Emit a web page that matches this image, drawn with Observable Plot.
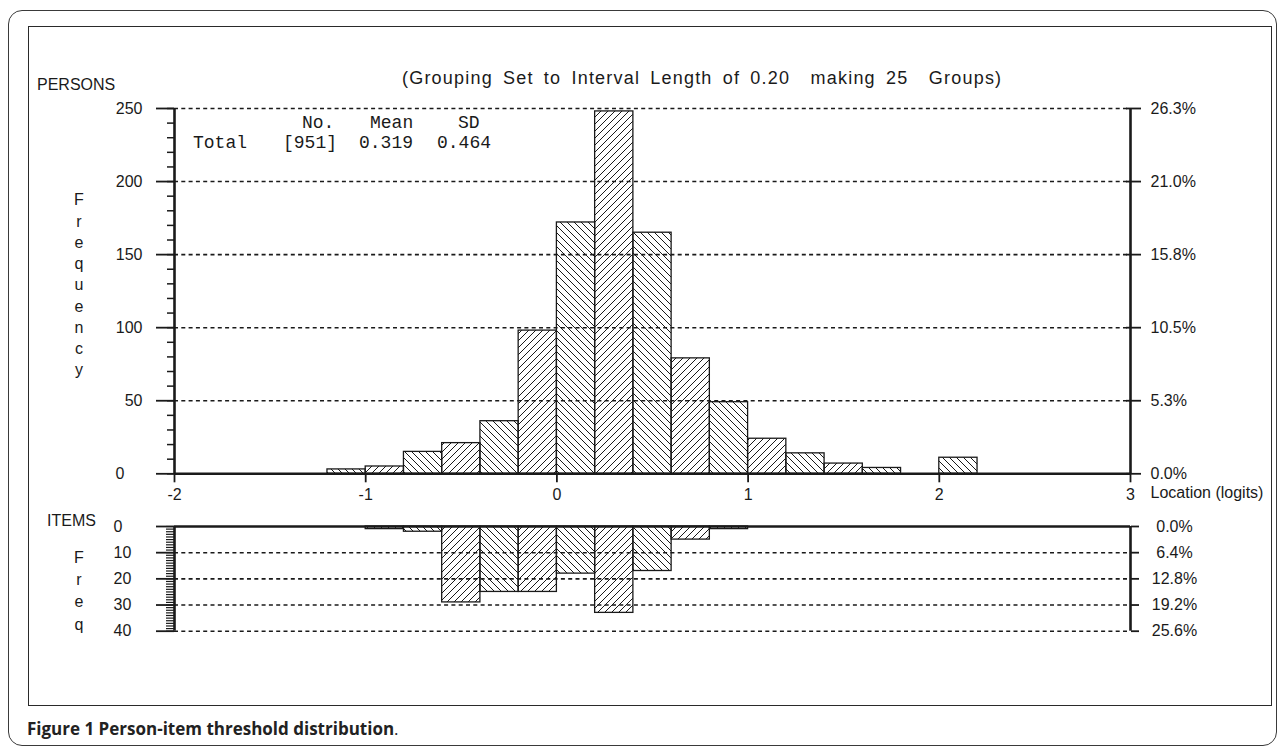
<!DOCTYPE html>
<html>
<head>
<meta charset="utf-8">
<script src="https://cdn.jsdelivr.net/npm/d3@7"></script>
<script src="https://cdn.jsdelivr.net/npm/@observablehq/plot@0.6"></script>
<style>
  html, body { margin: 0; padding: 0; background: #fff; }
  #wrap { position: relative; width: 1279px; height: 751px; overflow: hidden; font-family: "Liberation Sans", Arial, sans-serif; color: #1a1a1a; }
  .abs { position: absolute; white-space: pre; }
  #outer { left: 8px; top: 10px; width: 1269px; height: 736px; box-sizing: border-box; border: 1.5px solid #3a3a3a; border-radius: 14px; }
  #inner { left: 28px; top: 26px; width: 1244px; height: 680px; box-sizing: border-box; border: 1px solid #2a2a2a; }
  .lbl { font-size: 16px; line-height: 20px; }
  .mono { font-family: "Liberation Mono", "Courier New", monospace; font-size: 18px; line-height: 20px; }
  .stack { font-size: 16px; text-align: center; width: 20px; }
  #title { font-size: 18px; line-height: 22px; letter-spacing: 1.2px; word-spacing: 4px; }
  #caption { font-family: "Open Sans", "Noto Sans", sans-serif; font-size: 17px; line-height: 22px; font-weight: 700; color: #222; }
  .plotbox { position: absolute; left: 0; }
</style>
</head>
<body>
<svg width="0" height="0" style="position:absolute">
  <defs>
    <pattern id="hB" patternUnits="userSpaceOnUse" width="7" height="7">
      <path d="M0,0L7,7M-1,6L1,8M6,-1L8,1" stroke="#1a1a1a" stroke-width="1"/>
    </pattern>
    <pattern id="hF" patternUnits="userSpaceOnUse" width="7" height="7">
      <path d="M0,7L7,0M-1,1L1,-1M6,8L8,6" stroke="#1a1a1a" stroke-width="1"/>
    </pattern>
  </defs>
</svg>
<div id="wrap">
  <div id="outer" class="abs"></div>
  <div id="inner" class="abs"></div>
  <div id="title" class="abs"></div>
  <div id="persLbl" class="abs lbl"></div>
  <div id="itemLbl" class="abs lbl"></div>
  <div id="freqA" class="abs stack"></div>
  <div id="freqB" class="abs stack"></div>
  <div id="stats"></div>
  <div id="topBox" class="plotbox" style="top:40px"></div>
  <div id="botBox" class="plotbox" style="top:510px"></div>
  <div id="caption" class="abs"></div>
</div>
<script>
// ---------- data ----------
const binLeft = [-2.0,-1.8,-1.6,-1.4,-1.2,-1.0,-0.8,-0.6,-0.4,-0.2,0.0,0.2,0.4,0.6,0.8,1.0,1.2,1.4,1.6,1.8,2.0,2.2,2.4,2.6,2.8];
const binWidth = 0.2;
const personCounts = [0,0,0,0,3,5,15,21,36,98,172,248,165,79,49,24,14,7,4,0,11,0,0,0,0];
const itemCounts   = [0,0,0,0,0,1,2,29,25,25,18,33,17,5,1,0,0,0,0,0,0,0,0,0,0];
const xTicks = [-2,-1,0,1,2,3];
const xTickLabels = ["-2","-1","0","1","2","3"];
const personTicks = [0,50,100,150,200,250];
const personPctLabels = ["0.0%","5.3%","10.5%","15.8%","21.0%","26.3%"];
const itemTicks = [0,10,20,30,40];
const itemPctLabels = ["0.0%","6.4%","12.8%","19.2%","25.6%"];
const titleText = "(Grouping Set to Interval Length of 0.20  making 25  Groups)";
const personsLabel = "PERSONS";
const itemsLabel = "ITEMS";
const freqLetters = ["F","r","e","q","u","e","n","c","y"];
const freqShortLetters = ["F","r","e","q"];
const xAxisLabel = "Location (logits)";
const statHeader = [["No.", 302], ["Mean", 370], ["SD", 458]];
const statRow = [["Total", 193], ["[951]", 283], ["0.319", 359], ["0.464", 437]];
const captionBold = "Figure 1 Person-item threshold distribution";

// ---------- text ----------
const ink = "#1a1a1a";
function place(id, text, left, cy, lh) {
  const el = document.getElementById(id);
  el.textContent = text;
  el.style.left = left + "px";
  el.style.top = (cy - lh / 2) + "px";
}
place("title", titleText, 402, 78, 22);
place("persLbl", personsLabel, 37, 85, 20);
place("itemLbl", itemsLabel, 47, 521, 20);
function stack(id, letters, cx, cy0, step) {
  const el = document.getElementById(id);
  el.style.left = (cx - 10) + "px";
  el.style.top = (cy0 - step / 2) + "px";
  el.style.lineHeight = step + "px";
  el.textContent = letters.join("\n");
}
stack("freqA", freqLetters, 79, 200, 21.25);
stack("freqB", freqShortLetters, 79, 558, 22.3);
const statsEl = document.getElementById("stats");
for (const [t, x] of statHeader) {
  const d = document.createElement("div");
  d.className = "abs mono"; d.textContent = t; d.style.left = x + "px"; d.style.top = (123 - 10) + "px";
  statsEl.appendChild(d);
}
for (const [t, x] of statRow) {
  const d = document.createElement("div");
  d.className = "abs mono"; d.textContent = t; d.style.left = x + "px"; d.style.top = (143 - 10) + "px";
  statsEl.appendChild(d);
}
const cap = document.getElementById("caption");
cap.appendChild(document.createTextNode(captionBold));
const dot = document.createElement("span"); dot.textContent = "."; dot.style.fontWeight = "400";
cap.appendChild(dot);
cap.style.left = "27px"; cap.style.top = (729 - 11) + "px";

// ---------- rows ----------
const rows = binLeft.map((x0, i) => ({
  x0, x1: x0 + binWidth, persons: personCounts[i], items: itemCounts[i], even: i % 2 === 0
}));
const pB = rows.filter(d => d.persons > 0 && d.even);
const pF = rows.filter(d => d.persons > 0 && !d.even);
const iB = rows.filter(d => d.items > 0 && d.even);
const iF = rows.filter(d => d.items > 0 && !d.even);

const baseStyle = { background: "transparent", fontFamily: "'Liberation Sans', Arial, sans-serif", fontSize: "16px", color: ink, overflow: "visible" };

const topPlot = Plot.plot({
  width: 1279, height: 470,
  marginLeft: 174, marginRight: 149, marginTop: 68, marginBottom: 36.7,
  style: baseStyle,
  x: { domain: [-2, 3], label: null },
  y: { domain: [0, 250], label: null },
  marks: [
    Plot.rectY(pB, { x1: "x0", x2: "x1", y: "persons", fill: "url(#hB)", stroke: ink, strokeWidth: 1.3 }),
    Plot.rectY(pF, { x1: "x0", x2: "x1", y: "persons", fill: "url(#hF)", stroke: ink, strokeWidth: 1.3 }),
    Plot.gridY(personTicks.slice(1), { stroke: ink, strokeOpacity: 1, strokeWidth: 1.6, strokeDasharray: "4,3.3" }),
    Plot.ruleY([0], { stroke: ink, strokeWidth: 2.6 }),
    Plot.ruleX([-2, 3], { y1: 0, y2: 250, stroke: ink, strokeWidth: 2.6 }),
    Plot.axisY(d3.range(0, 251, 10), { anchor: "left", tickSize: 7, tickFormat: () => "", stroke: ink, strokeWidth: 1.5, label: null }),
    Plot.axisY(personTicks.slice(1), { anchor: "left", tickSize: 18, tickPadding: 14, stroke: ink, strokeWidth: 1.8, fill: ink, label: null }),
    Plot.axisY([0], { anchor: "left", tickSize: 18, tickFormat: () => "", stroke: ink, strokeWidth: 1.8, label: null }),
    Plot.text([0], { y: d => d, frameAnchor: "left", dx: -59, textAnchor: "start", text: d => String(d), fill: ink }),
    Plot.axisY(personTicks, { anchor: "right", tickSize: 5, dx: -5, tickFormat: () => "", stroke: ink, strokeWidth: 1.8, label: null }),
    Plot.axisY(personTicks, { anchor: "right", tickSize: 10, tickPadding: 10, stroke: ink, strokeWidth: 1.8, fill: ink, label: null,
      tickFormat: d => personPctLabels[personTicks.indexOf(d)] }),
    Plot.axisX(xTicks, { anchor: "bottom", tickSize: 9, tickPadding: 6, stroke: ink, strokeWidth: 1.8, fill: ink, label: null,
      tickFormat: d => xTickLabels[xTicks.indexOf(d)] }),
    Plot.text([xAxisLabel], { frameAnchor: "bottom-right", dx: 20, dy: 24, textAnchor: "start", fill: ink })
  ]
});
document.getElementById("topBox").appendChild(topPlot);

const botPlot = Plot.plot({
  width: 1279, height: 140,
  marginLeft: 174, marginRight: 149, marginTop: 16, marginBottom: 19.3,
  style: baseStyle,
  x: { domain: [-2, 3], label: null, axis: null },
  y: { domain: [0, 40], reverse: true, label: null },
  marks: [
    Plot.rectY(iB, { x1: "x0", x2: "x1", y: "items", fill: "url(#hB)", stroke: ink, strokeWidth: 1.3 }),
    Plot.rectY(iF, { x1: "x0", x2: "x1", y: "items", fill: "url(#hF)", stroke: ink, strokeWidth: 1.3 }),
    Plot.gridY(itemTicks.slice(1), { stroke: ink, strokeOpacity: 1, strokeWidth: 1.6, strokeDasharray: "4,3.3" }),
    Plot.ruleY([0], { stroke: ink, strokeWidth: 2.6 }),
    Plot.ruleX([-2, 3], { y1: 0, y2: 40, stroke: ink, strokeWidth: 2.6 }),
    Plot.axisY(d3.range(0, 41, 1), { anchor: "left", tickSize: 8, tickFormat: () => "", stroke: ink, strokeWidth: 1.2, label: null }),
    Plot.axisY(itemTicks, { anchor: "left", tickSize: 18, tickFormat: () => "", stroke: ink, strokeWidth: 1.8, label: null }),
    Plot.text(itemTicks, { y: d => d, frameAnchor: "left", dx: -61, textAnchor: "start", text: d => String(d), fill: ink }),
    Plot.axisY(itemTicks, { anchor: "right", tickSize: 8, tickFormat: () => "", stroke: ink, strokeWidth: 1.8, label: null }),
    Plot.text(itemTicks, { y: d => d, frameAnchor: "right", dx: 44, textAnchor: "middle", fill: ink,
      text: d => itemPctLabels[itemTicks.indexOf(d)] })
  ]
});
document.getElementById("botBox").appendChild(botPlot);
</script>
</body>
</html>
